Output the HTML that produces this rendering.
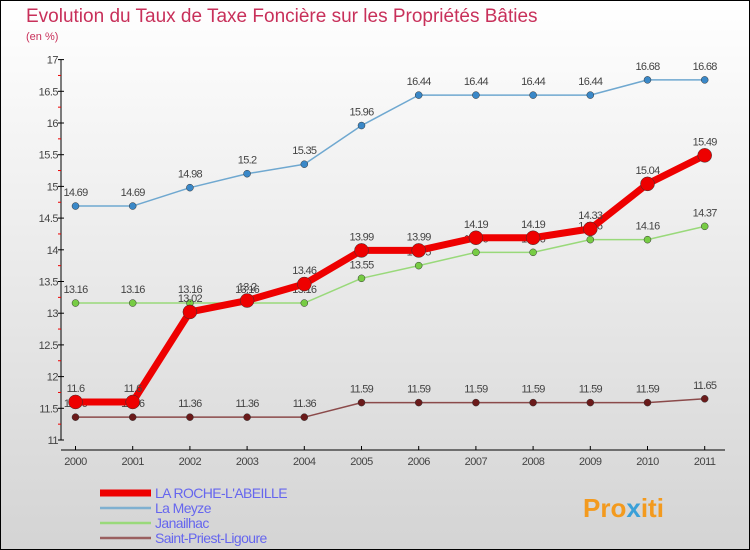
<!DOCTYPE html>
<html><head><meta charset="utf-8"><style>
body{margin:0}svg{display:block}
text{font-family:"Liberation Sans",sans-serif}
</style></head><body>
<svg id="c" width="750" height="550" xmlns="http://www.w3.org/2000/svg">
<defs><linearGradient id="bg" x1="0" y1="0" x2="0" y2="1"><stop offset="0" stop-color="#ffffff"/><stop offset="1" stop-color="#d4d4d4"/></linearGradient></defs>
<rect x="0.5" y="0.5" width="749" height="549" fill="url(#bg)" stroke="#000"/>
<text x="26" y="22" font-size="19" fill="#c8305a">Evolution du Taux de Taxe Foncière sur les Propriétés Bâties</text>
<text x="26" y="40" font-size="11" fill="#c8305a">(en %)</text>
<g id="axes"></g><g id="series"></g><g id="legend"></g>
<text x="583" y="517" font-size="26" font-weight="bold" fill="#f39a1e">Pro<tspan fill="#3aa0d8">x</tspan>iti</text>
</svg>
<script>
const years=[2000,2001,2002,2003,2004,2005,2006,2007,2008,2009,2010,2011];
const yTicks=[11,11.5,12,12.5,13,13.5,14,14.5,15,15.5,16,16.5,17];
const roche=[11.6,11.6,13.02,13.2,13.46,13.99,13.99,14.19,14.19,14.33,15.04,15.49];
const meyze=[14.69,14.69,14.98,15.2,15.35,15.96,16.44,16.44,16.44,16.44,16.68,16.68];
const janailhac=[13.16,13.16,13.16,13.16,13.16,13.55,13.75,13.96,13.96,14.16,14.16,14.37];
const stpriest=[11.36,11.36,11.36,11.36,11.36,11.59,11.59,11.59,11.59,11.59,11.59,11.65];
const NS="http://www.w3.org/2000/svg";
const X=i=>75.5+i*57.2;
const Y=v=>440-(v-11)*63.4;
function mk(t,a,p){const e=document.createElementNS(NS,t);for(const k in a)e.setAttribute(k,a[k]);p.appendChild(e);return e;}
const ax=document.getElementById('axes');
let l=mk('line',{x1:61,y1:Y(17),x2:61,y2:Y(11),stroke:'#000'},ax);


l=mk('line',{x1:61,y1:450,x2:725,y2:450,stroke:'#000'},ax);


yTicks.forEach((v,i)=>{
 mk('line',{x1:58,y1:Y(v),x2:64,y2:Y(v),stroke:'#000'},ax);
 if(i<yTicks.length-1)mk('line',{x1:58,y1:Y(v+0.25),x2:61,y2:Y(v+0.25),stroke:'#e00'},ax);
 const t=mk('text',{x:58,y:Y(v)+4,'font-size':11,fill:'#444','text-anchor':'end','letter-spacing':'-0.5'},ax);
 t.textContent=String(v);
 
 
});
years.forEach((y,i)=>{
 mk('line',{x1:X(i),y1:446,x2:X(i),y2:450,stroke:'#000'},ax);
 const t=mk('text',{x:X(i),y:465,'font-size':11,fill:'#444','text-anchor':'middle','letter-spacing':'-0.5'},ax);
 t.textContent=String(y);
 
 
});
const sg=document.getElementById('series');
function series(vals,color,w,r,name,dot){
 const g=mk('g',{},sg);
 
 
 mk('polyline',{points:vals.map((v,i)=>X(i)+','+Y(v)).join(' '),fill:'none',stroke:color,'stroke-width':w,'stroke-linejoin':'round'},g);
 vals.forEach((v,i)=>{
  const c=mk('circle',{cx:X(i),cy:Y(v),r:r,fill:dot,stroke:'#333','stroke-width':0.5},g);
  
  
  const t=mk('text',{x:X(i),y:Y(v)-10,'font-size':11,fill:'#444','text-anchor':'middle','letter-spacing':'-0.7'},g);
  t.textContent=String(v);
  
  
 });
}
series(stpriest,'#8b4a4a',1.5,3.5,'saint-priest-ligoure-series','#6b1a1a');
series(janailhac,'#99d97a',1.5,3.5,'janailhac-series','#77cc44');
series(meyze,'#6fa8d0',1.5,3.5,'la-meyze-series','#3a88c8');
series(roche,'#ee0000',7,7,'la-roche-labeille-series','#ee0000');
const lg=document.getElementById('legend');
const names=['LA ROCHE-L\'ABEILLE','La Meyze','Janailhac','Saint-Priest-Ligoure'];
const cols=['#ee0000','#7fb0d0','#99d97a','#9a6060'];
const ws=[7,2.5,2.5,2.5];
names.forEach((n,i)=>{
 const y=493+i*15;
 const ln=mk('line',{x1:100,y1:y,x2:151,y2:y,stroke:cols[i],'stroke-width':ws[i]},lg);
 
 
 const t=mk('text',{x:155,y:y+5,'font-size':14,fill:'#6666ee','letter-spacing':'-0.6'},lg);
 t.textContent=n;
 
 
});
</script>
</body></html>
